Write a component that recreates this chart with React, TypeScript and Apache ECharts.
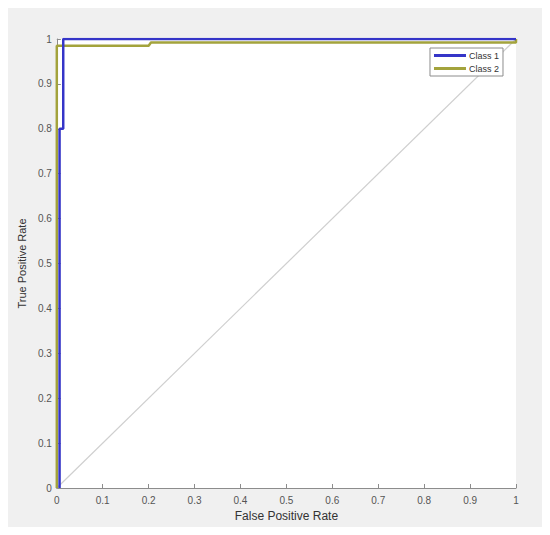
import React, { useEffect, useRef } from "react";
import * as echarts from "echarts";

const xTicks = [0, 0.1, 0.2, 0.3, 0.4, 0.5, 0.6, 0.7, 0.8, 0.9, 1];
const class1Points: [number, number][] = [
  [0.006, 0], [0.006, 0.8], [0.014, 0.8], [0.014, 1], [1, 1],
];
const class2Points: [number, number][] = [
  [0, 0], [0, 0.985], [0.2, 0.985], [0.205, 0.992], [1, 0.992], [1, 1],
];
const diagonalPoints: [number, number][] = [[0, 0], [1, 1]];

const fmt = (v: number) => {
  const r = Math.round(v * 10) / 10;
  return String(r);
};

export default function App() {
  const ref = useRef<HTMLDivElement>(null);
  useEffect(() => {
    if (!ref.current) return;
    const chart = echarts.init(ref.current, undefined, { renderer: "svg" });
    const font = "Liberation Sans, Arial, sans-serif";
    const axisCommon = {
      type: "value" as const,
      min: 0,
      max: 1,
      interval: 0.1,
      splitLine: { show: false },
      axisLine: { show: true, lineStyle: { color: "#8c8c8c", width: 1 } },
      axisTick: { show: true, inside: true, length: 4, lineStyle: { color: "#8c8c8c" } },
      axisLabel: {
        color: "#555",
        fontSize: 10,
        fontFamily: font,
        formatter: fmt,
      },
      nameLocation: "middle" as const,
    };
    chart.setOption({
      animation: false,
      backgroundColor: "#f0f0f0",
      grid: {
        left: 45,
        right: 26,
        top: 31,
        bottom: 39,
        show: true,
        backgroundColor: "#ffffff",
        borderWidth: 0,
      },
      legend: {
        orient: "vertical",
        right: 39,
        top: 40,
        backgroundColor: "#ffffff",
        borderColor: "#8c8c8c",
        borderWidth: 1,
        borderRadius: 0,
        padding: [3, 4, 3, 4],
        itemGap: 4,
        itemWidth: 32,
        itemHeight: 3,
        icon: "rect",
        data: ["Class 1", "Class 2"],
        textStyle: {
          color: "#333",
          fontSize: 9,
          fontFamily: font,
          padding: [0, 0, 0, -2],
        },
      },
      xAxis: {
        ...axisCommon,
        name: "False Positive Rate",
        nameGap: 19,
        nameTextStyle: { color: "#333", fontSize: 12, fontFamily: font },
        axisLabel: { ...axisCommon.axisLabel, margin: 7 },
      },
      yAxis: {
        ...axisCommon,
        name: "True Positive Rate",
        nameGap: 29,
        nameTextStyle: { color: "#333", fontSize: 11, fontFamily: font },
        axisLabel: { ...axisCommon.axisLabel, margin: 5 },
      },
      series: [
        {
          name: "diag",
          type: "line",
          data: diagonalPoints,
          symbol: "none",
          lineStyle: { color: "#cfcfcf", width: 1.2 },
          silent: true,
          z: 1,
        },
        {
          name: "Class 2",
          type: "line",
          data: class2Points,
          symbol: "none",
          color: "#a3a33c",
          lineStyle: { color: "#a3a33c", width: 2.5 },
          z: 2,
        },
        {
          name: "Class 1",
          type: "line",
          data: class1Points,
          symbol: "none",
          color: "#3535c8",
          lineStyle: { color: "#3535c8", width: 2.5 },
          z: 3,
        },
      ],
    });
    return () => chart.dispose();
  }, []);
  return <div ref={ref} style={{ width: 534, height: 519 }} />;
}
